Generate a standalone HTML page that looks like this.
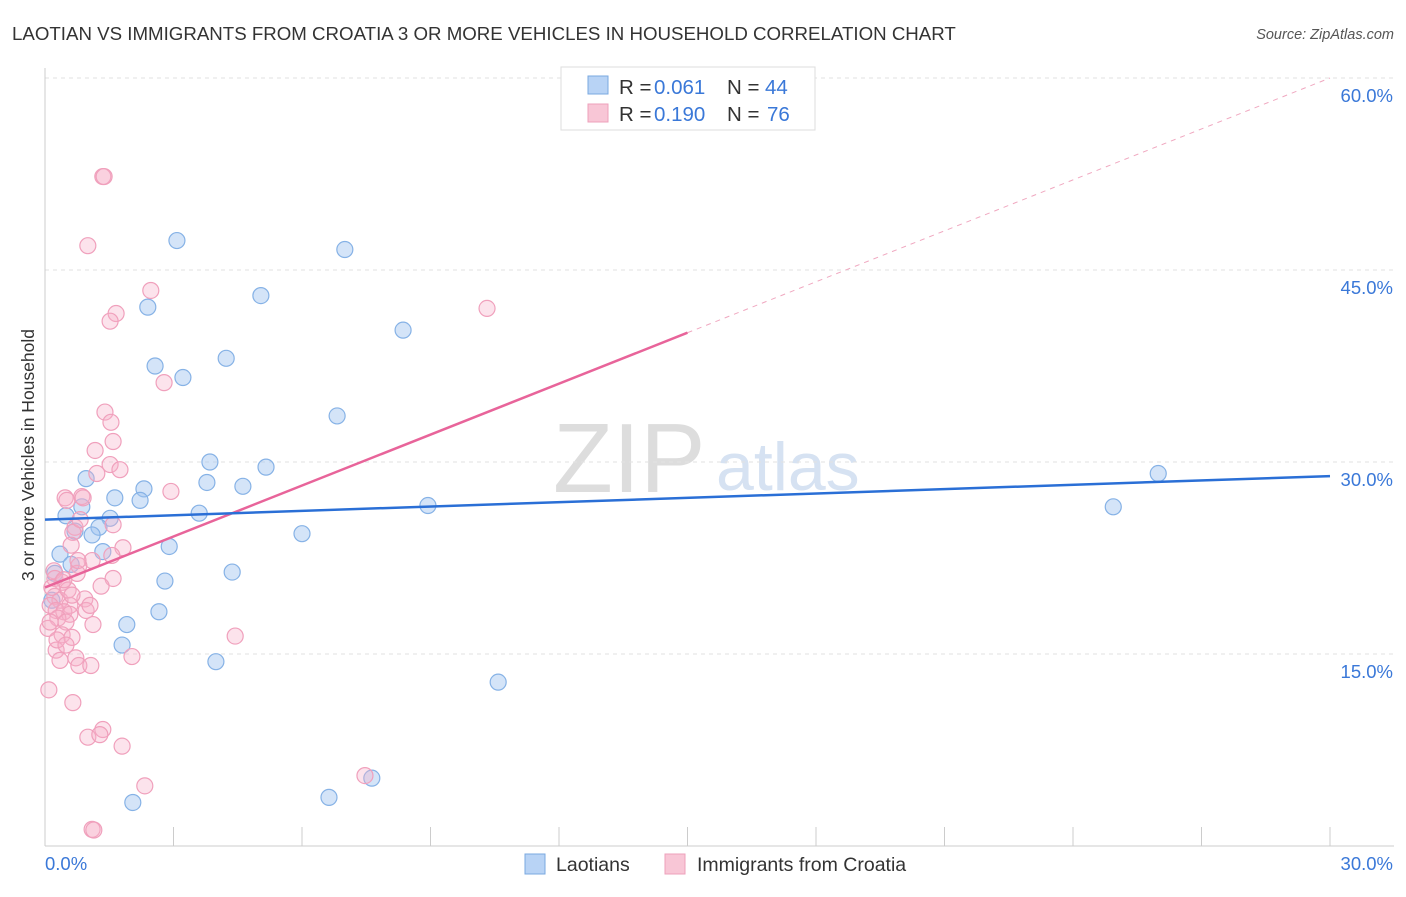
<!DOCTYPE html>
<html><head><meta charset="utf-8"><style>
body{margin:0;background:#fff;font-family:"Liberation Sans",sans-serif;}
svg text{font-family:"Liberation Sans",sans-serif;}
</style></head><body>
<svg id="chart" width="1406" height="892">
<text x="12" y="40" font-size="18.7" fill="#333">LAOTIAN VS IMMIGRANTS FROM CROATIA 3 OR MORE VEHICLES IN HOUSEHOLD CORRELATION CHART</text>
<text x="1394" y="39" font-size="14.5" fill="#555" font-style="italic" text-anchor="end">Source: ZipAtlas.com</text>
<text x="553" y="492" font-size="98" fill="#ddd" font-family="Liberation Serif, serif">ZIP</text>
<text x="716" y="490" font-size="68" fill="#d6e2f2">atlas</text>
<text x="34" y="455" font-size="17.5" fill="#333" text-anchor="middle" transform="rotate(-90 34 455)">3 or more Vehicles in Household</text>
<g id="grid"></g><g id="marks"></g>
<g>
<rect x="561" y="67" width="254" height="63" fill="#fff" stroke="#ddd"/>
<rect x="588" y="76" width="20" height="18" fill="#b8d3f5" stroke="#7aa8e0"/>
<rect x="588" y="104" width="20" height="18" fill="#f8c6d6" stroke="#eea0bb"/>
<text x="619" y="94" font-size="20.5" fill="#333">R =</text>
<text x="654" y="94" font-size="20.5" fill="#3a78d8">0.061</text>
<text x="727" y="94" font-size="20.5" fill="#333">N =</text>
<text x="765" y="94" font-size="20.5" fill="#3a78d8">44</text>
<text x="619" y="121" font-size="20.5" fill="#333">R =</text>
<text x="654" y="121" font-size="20.5" fill="#3a78d8">0.190</text>
<text x="727" y="121" font-size="20.5" fill="#333">N =</text>
<text x="767" y="121" font-size="20.5" fill="#3a78d8">76</text>
</g>
<g>
<rect x="525" y="854" width="20" height="20" fill="#b8d3f5" stroke="#7aa8e0"/>
<text x="556" y="871" font-size="19.5" fill="#333">Laotians</text>
<rect x="665" y="854" width="20" height="20" fill="#f8c6d6" stroke="#eea0bb"/>
<text x="697" y="871" font-size="19.5" fill="#333">Immigrants from Croatia</text>
</g>
</svg>
<script>
const yTicks=[15,30,45,60];
const yTickLabels=["15.0%","30.0%","45.0%","60.0%"];
const xTicks=[0,3,6,9,12,15,18,21,24,27,30];
const blueX=[3.08,7.00,5.04,2.40,8.36,4.23,2.57,3.22,6.82,3.85,5.16,25.99,0.96,3.78,4.62,2.31,1.63,2.22,0.86,8.94,24.94,3.60,0.49,1.52,1.26,0.70,1.10,6.00,2.90,1.35,0.35,0.61,4.37,0.23,2.80,2.66,1.91,1.80,3.99,10.58,2.05,6.63,7.63,0.16];
const blueY=[47.3,46.6,43.0,42.1,40.3,38.1,37.5,36.6,33.6,30.0,29.6,29.1,28.7,28.4,28.1,27.9,27.2,27.0,26.5,26.6,26.5,26.0,25.8,25.6,24.9,24.6,24.3,24.4,23.4,23.0,22.8,22.0,21.4,21.3,20.7,18.3,17.3,15.7,14.4,12.8,3.4,3.8,5.3,19.2];
const pinkX=[1.35,1.38,1.00,2.47,10.32,1.66,1.52,2.78,1.40,1.54,1.59,1.17,1.21,2.94,0.47,0.86,0.51,0.89,1.59,0.70,0.65,1.82,0.61,1.56,1.10,0.79,0.21,0.75,0.23,1.59,0.40,1.31,0.93,0.23,0.35,0.58,0.12,0.26,0.44,0.58,0.30,1.12,0.49,0.07,0.12,0.40,0.63,0.26,0.35,4.44,2.03,0.72,0.79,1.07,0.09,0.65,1.35,1.00,1.28,1.80,2.33,7.47,1.10,1.14,0.96,0.54,0.28,1.52,0.82,0.44,0.63,0.16,1.05,0.49,0.77,1.75];
const pinkY=[52.3,52.3,46.9,43.4,42.0,41.6,41.0,36.2,33.9,33.1,31.6,30.9,29.1,27.7,27.2,27.3,27.0,27.2,25.1,24.9,24.5,23.3,23.5,22.7,22.3,21.9,21.5,21.3,20.9,20.9,20.6,20.3,19.3,19.5,19.2,18.8,18.8,18.4,18.3,18.1,17.8,17.3,17.5,17.0,17.5,16.5,16.3,15.3,14.5,16.4,14.8,14.7,14.1,14.1,12.2,11.2,9.1,8.5,8.7,7.8,4.7,5.5,1.3,1.25,18.4,20.0,16.1,29.8,25.5,20.8,19.6,20.2,18.8,15.7,22.3,29.4];
const blueLine=[25.5,28.9];
const pinkLine=[20.2,60];
const NS="http://www.w3.org/2000/svg";
const xs=v=>45+v*(1285/30);
const ys=v=>846-v*12.8;
function mk(tag,attrs,parent){const e=document.createElementNS(NS,tag);for(const k in attrs)e.setAttribute(k,attrs[k]);parent.appendChild(e);return e;}
const grid=document.getElementById('grid'),marks=document.getElementById('marks');
yTicks.forEach((t,i)=>{
 const l=mk('line',{x1:45,x2:1394,y1:ys(t),y2:ys(t),stroke:'#e2e2e2','stroke-dasharray':'4,4'},grid);
 
 
 const tx=mk('text',{x:1393,y:ys(t)+24,'font-size':18.5,fill:'#3a78d8','text-anchor':'end'},grid);
 tx.textContent=yTickLabels[i];
 
 
});
const ax=mk('line',{x1:45,x2:1394,y1:846,y2:846,stroke:'#ccc'},grid);


const ay=mk('line',{x1:45,x2:45,y1:68,y2:846,stroke:'#ccc'},grid);


xTicks.forEach(t=>{
 const l=mk('line',{x1:xs(t),x2:xs(t),y1:827,y2:846,stroke:'#ccc'},grid);
 
 
});
const xl0=mk('text',{x:45,y:870,'font-size':18.5,fill:'#3a78d8'},grid);xl0.textContent='0.0%';


const xl1=mk('text',{x:1393,y:870,'font-size':18.5,fill:'#3a78d8','text-anchor':'end'},grid);xl1.textContent='30.0%';


blueX.forEach((x,i)=>{
 const c=mk('circle',{cx:xs(x),cy:ys(blueY[i]),r:8,fill:'rgba(160,196,240,0.45)',stroke:'#86b2e6','stroke-width':1.2},marks);
 
 
});
pinkX.forEach((x,i)=>{
 const c=mk('circle',{cx:xs(x),cy:ys(pinkY[i]),r:8,fill:'rgba(246,176,200,0.35)',stroke:'#f0a0bc','stroke-width':1.2},marks);
 
 
});
const pm=pinkLine[0]+(pinkLine[1]-pinkLine[0])*0.5;
const pd=mk('line',{x1:xs(15),y1:ys(pm),x2:xs(30),y2:ys(pinkLine[1]),stroke:'#f0a8c0','stroke-width':1,'stroke-dasharray':'5,5'},marks);


const pl=mk('line',{x1:xs(0),y1:ys(pinkLine[0]),x2:xs(15),y2:ys(pm),stroke:'#e8649a','stroke-width':2.5},marks);


const bl=mk('line',{x1:xs(0),y1:ys(blueLine[0]),x2:xs(30),y2:ys(blueLine[1]),stroke:'#2a6fd6','stroke-width':2.5},marks);


</script>
</body></html>
